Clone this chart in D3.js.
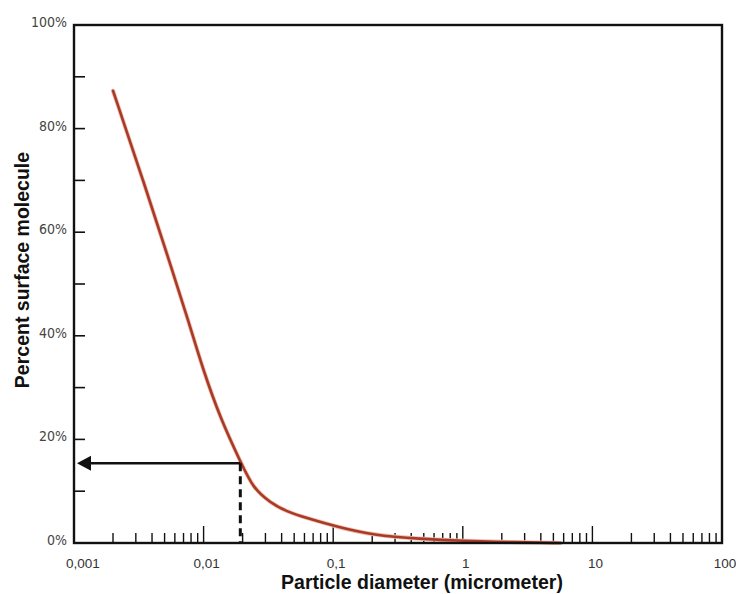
<!DOCTYPE html>
<html>
<head>
<meta charset="utf-8">
<script src="https://cdn.jsdelivr.net/npm/d3@7"></script>
<style>
  body { margin: 0; background: #fff; }
  svg { display: block; }
</style>
</head>
<body>
<div id="chart"></div>
<script>
// curve (diameter in micrometer, percent)
const diameters = [0.002, 0.00341, 0.00572, 0.00759, 0.00991, 0.01365, 0.0195, 0.0241, 0.0326, 0.0442, 0.063, 0.107, 0.204, 0.47, 1.01, 2.5, 5.7]
const percents  = [87.3, 70.1, 52.7, 43.1, 33.4, 23.7, 15.4, 10.6, 7.8, 6.0, 4.8, 3.1, 1.5, 0.8, 0.4, 0.15, 0.0]

const xTickValues = [0.001, 0.01, 0.1, 1, 10, 100]
const xTickLabels = ["0,001", "0,01", "0,1", "1", "10", "100"]
const yTickValues = [0, 20, 40, 60, 80, 100]
const yTickLabels = ["0%", "20%", "40%", "60%", "80%", "100%"]
const yMinorValues = [10, 30, 50, 70, 90]

// the arrow reading
const markD = 0.0192
const markP = 15.4

const width = 736, height = 594
const margin = {left: 74, top: 25, right: 14, bottom: 51}

const svg = d3.select("#chart").append("svg").attr("width", width).attr("height", height)

const x = d3.scaleLog().domain([0.001, 100]).range([margin.left, width - margin.right])
const y = d3.scaleLinear().domain([0, 100]).range([height - margin.bottom, margin.top])

const x0 = x.range()[0], x1 = x.range()[1]
const y0 = y.range()[0], y1 = y.range()[1]

// minor x ticks 2..9 per decade
const xMinor = []
for (let e = -3; e < 2; e++) {
  for (let m = 2; m <= 9; m++) xMinor.push(m * Math.pow(10, e))
}

const g = svg.append("g")

g.selectAll(".xminor").data(xMinor).enter().append("line")
  .attr("x1", d => x(d)).attr("x2", d => x(d))
  .attr("y1", y0).attr("y2", y0 - 10)
  .attr("stroke", "#111").attr("stroke-width", 1.4)

g.selectAll(".xmajor").data(xTickValues).enter().append("line")
  .attr("x1", d => x(d)).attr("x2", d => x(d))
  .attr("y1", y0).attr("y2", y0 - 17)
  .attr("stroke", "#111").attr("stroke-width", 1.4)

g.selectAll(".ytick").data(yTickValues.concat(yMinorValues)).enter().append("line")
  .attr("x1", x0).attr("x2", x0 + 11)
  .attr("y1", d => y(d)).attr("y2", d => y(d))
  .attr("stroke", "#111").attr("stroke-width", 1.6)

// curve
const line = d3.line()
  .x((d, i) => x(diameters[i]))
  .y(d => y(d))
  .curve(d3.curveBasis)

svg.append("path")
  .datum(percents)
  .attr("d", line)
  .attr("fill", "none")
  .attr("stroke", "#f0c0b0")
  .attr("stroke-width", 4.2)
  .attr("stroke-linecap", "round")
svg.append("path")
  .datum(percents)
  .attr("d", line)
  .attr("fill", "none")
  .attr("stroke", "#a83a28")
  .attr("stroke-width", 2.6)
  .attr("stroke-linecap", "round")

// dashed drop line and arrow
svg.append("line")
  .attr("x1", x(markD)).attr("x2", x(markD))
  .attr("y1", y(markP)).attr("y2", y0)
  .attr("stroke", "#111").attr("stroke-width", 3)
  .attr("stroke-dasharray", "8,5")

svg.append("line")
  .attr("x1", x(markD)).attr("x2", x0 + 14)
  .attr("y1", y(markP)).attr("y2", y(markP))
  .attr("stroke", "#111").attr("stroke-width", 2.6)

svg.append("path")
  .attr("d", `M${x0 + 3},${y(markP)} L${x0 + 17},${y(markP) - 7.5} L${x0 + 17},${y(markP) + 7.5} Z`)
  .attr("fill", "#111")

// frame
svg.append("rect")
  .attr("x", x0).attr("y", y1)
  .attr("width", x1 - x0).attr("height", y0 - y1)
  .attr("fill", "none").attr("stroke", "#111").attr("stroke-width", 2.4)

// tick labels
svg.selectAll(".ylab").data(yTickValues).enter().append("text")
  .attr("x", x0 - 7)
  .attr("y", d => y(d) - 3)
  .attr("dy", "0.35em")
  .attr("text-anchor", "end")
  .attr("font-family", "'Liberation Sans Narrow', 'DejaVu Sans Condensed', sans-serif")
  .attr("font-stretch", "condensed")
  .attr("font-size", 14)
  .attr("fill", "#444")
  .text((d, i) => yTickLabels[i])

svg.selectAll(".xlab").data(xTickValues).enter().append("text")
  .attr("x", (d, i) => x(d) + (i === 0 ? 9 : 3))
  .attr("y", 568)
  .attr("text-anchor", "middle")
  .attr("font-family", "'Liberation Sans', Arial, sans-serif")
  .attr("font-size", 13.5)
  .attr("fill", "#333")
  .text((d, i) => xTickLabels[i])

// axis titles
svg.append("text")
  .attr("x", 422).attr("y", 589)
  .attr("text-anchor", "middle")
  .attr("font-family", "'Liberation Sans', Arial, sans-serif")
  .attr("font-weight", "bold")
  .attr("font-size", 19.5)
  .attr("fill", "#111")
  .text("Particle diameter (micrometer)")

svg.append("text")
  .attr("transform", "translate(29,270) rotate(-90)")
  .attr("text-anchor", "middle")
  .attr("font-family", "'Liberation Sans', Arial, sans-serif")
  .attr("font-weight", "bold")
  .attr("font-size", 19.5)
  .attr("fill", "#111")
  .text("Percent surface molecule")
</script>
</body>
</html>
